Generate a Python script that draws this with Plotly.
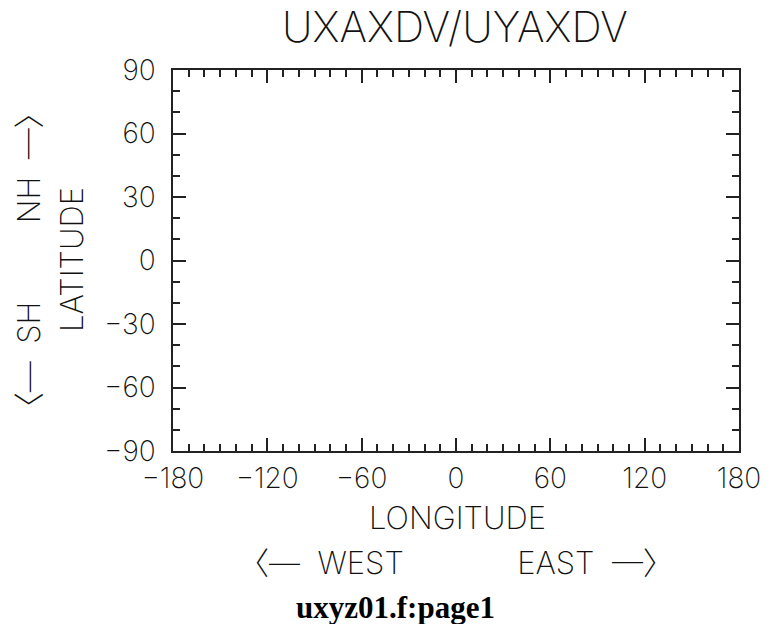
import plotly.graph_objects as go

# Axis definitions for the empty longitude/latitude frame
lon_range = [-180, 180]
lat_range = [-90, 90]
lon_ticks = [-180, -120, -60, 0, 60, 120, 180]
lon_labels = ["−180", "−120", "−60", "0", "60", "120", "180"]
lat_ticks = [-90, -60, -30, 0, 30, 60, 90]
lat_labels = ["−90", "−60", "−30", "0", "30", "60", "90"]
lon_minor_step = 10
lat_minor_step = 10

title_text = "UXAXDV/UYAXDV"
x_title = "LONGITUDE"
x_subtitle = "〈—  WEST             EAST  —〉"
y_title = "LATITUDE"
y_subtitle = "〈—  SH         NH  —〉"
footer = "uxyz01.f:page1"

FONT = "Inter, Noto Sans CJK JP"
LINE = "#222"

fig = go.Figure()
fig.add_trace(go.Scatter(x=[None], y=[None], mode="markers", showlegend=False))

axis_common = dict(
    showgrid=False, zeroline=False, showline=True, linecolor=LINE, linewidth=1.5,
    mirror="ticks", ticks="inside", ticklen=13, tickwidth=1.5, tickcolor=LINE,
    tickfont=dict(family=FONT, size=28, color="#111", weight=200),
)

fig.update_xaxes(
    range=lon_range, tickvals=lon_ticks, ticktext=lon_labels,
    minor=dict(dtick=lon_minor_step, ticks="inside", ticklen=7, tickwidth=1.5, tickcolor=LINE),
    ticklabelstandoff=2, **axis_common,
)
fig.update_yaxes(
    range=lat_range, tickvals=lat_ticks, ticktext=lat_labels,
    minor=dict(dtick=lat_minor_step, ticks="inside", ticklen=7, tickwidth=1.5, tickcolor=LINE),
    ticklabelstandoff=10, **axis_common,
)

def label(text, x, y, size, angle=0, family=FONT, weight=200, color="#111"):
    fig.add_annotation(
        text=text, x=x, y=y, xref="paper", yref="paper", showarrow=False,
        textangle=angle, xanchor="center", yanchor="middle",
        font=dict(family=family, size=size, color=color, weight=weight),
    )

# paper coordinates relative to plot area (173..744 x, 70..451 y)
W, H = 744 - 173, 451 - 70
def px(x):
    return (x - 173) / W
def py(y):
    return (451 - y) / H

label(title_text, px(457), py(27), 42)
label(x_title, px(460), py(517), 31)
label(x_subtitle, px(458), py(562), 31)
label(y_title, px(70), py(259), 31, angle=-90)
label(y_subtitle, px(27), py(260), 31, angle=-90)
label(footer, px(397), py(607), 31, family="Liberation Serif", weight=700, color="#000")

fig.update_layout(
    width=773, height=624,
    margin=dict(l=173, r=29, t=70, b=173),
    plot_bgcolor="white", paper_bgcolor="white",
)

fig.write_html("out.html")
